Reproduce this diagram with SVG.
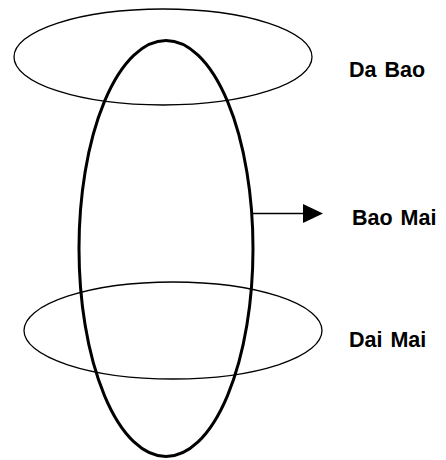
<svg xmlns="http://www.w3.org/2000/svg" width="446" height="460" viewBox="0 0 446 460">
<style>
.thin{fill:none;stroke:#000;stroke-width:1.3}
.thick{fill:none;stroke:#000;stroke-width:3}
.lbl{font-family:"Liberation Sans",Arial,sans-serif;font-weight:bold;font-size:21.5px;fill:#000;word-spacing:2px}
</style>
<defs>
<marker id="ah" markerWidth="20" markerHeight="20" refX="0" refY="10" orient="auto" markerUnits="userSpaceOnUse">
<polygon points="0,0.5 20,10 0,19.5" fill="#000"/>
</marker>
</defs>
<rect width="446" height="460" fill="#fff"/>
<g id="node-dabao"><ellipse class="thin" cx="163" cy="57" rx="149" ry="48"/></g>
<g id="node-baomai"><ellipse class="thick" cx="166" cy="248.5" rx="87" ry="208"/></g>
<g id="node-daimai"><ellipse class="thin" cx="173" cy="330.5" rx="149" ry="48.5"/></g>
<g id="connectors"><line x1="252" y1="213.5" x2="303" y2="213.5" stroke="#000" stroke-width="1.5" marker-end="url(#ah)"/></g>
<g id="labels">
<text class="lbl" x="349" y="77">Da Bao</text>
<text class="lbl" x="352" y="225">Bao Mai</text>
<text class="lbl" x="349" y="347">Dai Mai</text>
</g>
</svg>
